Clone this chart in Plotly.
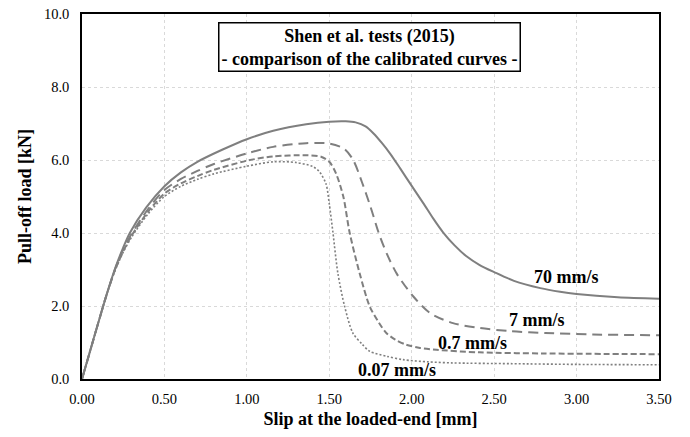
import plotly.graph_objects as go

# ---- data ----
x_70 = [0, 0.05, 0.10, 0.15, 0.20, 0.25, 0.29, 0.39, 0.50, 0.60, 0.70, 0.85, 1.00, 1.16, 1.36, 1.50,
        1.60, 1.66, 1.72, 1.77, 1.82, 1.87, 1.93, 2.00, 2.07, 2.13, 2.19, 2.26, 2.33, 2.41, 2.50,
        2.62, 2.78, 2.90, 3.00, 3.25, 3.50]
y_70 = [0, 0.78, 1.56, 2.32, 3.02, 3.60, 4.00, 4.70, 5.28, 5.66, 5.95, 6.28, 6.57, 6.80, 6.98, 7.05,
        7.06, 7.03, 6.92, 6.72, 6.46, 6.17, 5.77, 5.29, 4.82, 4.40, 4.02, 3.66, 3.37, 3.13, 2.93,
        2.69, 2.49, 2.39, 2.33, 2.24, 2.20]

x_7 = [0, 0.05, 0.10, 0.15, 0.20, 0.25, 0.30, 0.40, 0.50, 0.60, 0.70, 0.80, 1.00, 1.16, 1.36, 1.50,
       1.59, 1.645, 1.70, 1.75, 1.80, 1.85, 1.91, 2.01, 2.11, 2.25, 2.41, 2.60, 2.81, 3.10, 3.50]
y_7 = [0, 0.78, 1.56, 2.32, 3.00, 3.55, 3.97, 4.65, 5.18, 5.48, 5.70, 5.89, 6.18, 6.36, 6.46, 6.45,
       6.31, 6.00, 5.37, 4.72, 4.00, 3.42, 2.88, 2.26, 1.81, 1.53, 1.40, 1.31, 1.26, 1.22, 1.20]

x_07 = [0, 0.05, 0.10, 0.15, 0.20, 0.25, 0.30, 0.40, 0.50, 0.60, 0.70, 0.80, 1.00, 1.16, 1.36, 1.45,
        1.50, 1.54, 1.585, 1.623, 1.684, 1.745, 1.80, 1.846, 1.90, 1.967, 2.05, 2.15, 2.41, 2.80, 3.50]
y_07 = [0, 0.78, 1.56, 2.32, 2.98, 3.50, 3.92, 4.58, 5.08, 5.36, 5.56, 5.73, 5.98, 6.10, 6.13, 6.09,
        5.95, 5.64, 5.00, 4.02, 2.90, 1.99, 1.55, 1.26, 1.08, 0.94, 0.85, 0.80, 0.73, 0.70, 0.68]

x_007 = [0, 0.05, 0.10, 0.15, 0.20, 0.25, 0.30, 0.40, 0.50, 0.60, 0.70, 0.80, 1.00, 1.16, 1.30, 1.40,
         1.44, 1.48, 1.50, 1.522, 1.552, 1.593, 1.643, 1.70, 1.745, 1.85, 1.947, 2.10, 2.25, 2.60,
         3.00, 3.50]
y_007 = [0, 0.78, 1.56, 2.32, 2.97, 3.47, 3.88, 4.52, 5.00, 5.28, 5.47, 5.62, 5.83, 5.95, 5.93, 5.82,
         5.68, 5.35, 4.80, 4.02, 2.90, 1.99, 1.26, 0.95, 0.76, 0.62, 0.53, 0.47, 0.44, 0.42,
         0.40, 0.39]

curve_labels = ["70 mm/s", "7 mm/s", "0.7 mm/s", "0.07 mm/s"]
label_x = [2.94, 2.76, 2.37, 1.91]
label_y = [2.80, 1.62, 1.00, 0.25]

x_ticks = [0, 0.5, 1.0, 1.5, 2.0, 2.5, 3.0, 3.5]
y_ticks = [0, 2, 4, 6, 8, 10]

title_lines = ["Shen et al. tests (2015)", "- comparison of the calibrated curves -"]

# ---- figure ----
GRAY = "#7f7f7f"
FONT = "Liberation Serif, Times New Roman, serif"

series = [
    (x_70, y_70, dict(color=GRAY, width=2, dash="solid")),
    (x_7, y_7, dict(color=GRAY, width=2, dash="10px,6px")),
    (x_07, y_07, dict(color=GRAY, width=2, dash="6px,3px")),
    (x_007, y_007, dict(color=GRAY, width=1.6, dash="2px,2px")),
]

fig = go.Figure()
for (xs, ys, ln), name in zip(series, curve_labels):
    fig.add_trace(go.Scatter(x=xs, y=ys, mode="lines", name=name,
                             line=dict(shape="spline", smoothing=0.8, **ln),
                             showlegend=False, hoverinfo="skip"))

for txt, lx, ly in zip(curve_labels, label_x, label_y):
    fig.add_annotation(x=lx, y=ly, text="<b>%s</b>" % txt, showarrow=False,
                       font=dict(family=FONT, size=18, color="black"),
                       xanchor="center", yanchor="middle")

fig.add_annotation(x=1.745, y=9.10, xref="x", yref="y",
                   text="<b>%s</b><br><b>%s</b>" % tuple(title_lines),
                   showarrow=False, align="center",
                   font=dict(family=FONT, size=18, color="black"),
                   bordercolor="black", borderwidth=1.5, borderpad=2,
                   bgcolor="white", xanchor="center", yanchor="middle")

fig.update_xaxes(range=[0, 3.5], tickvals=x_ticks, tickformat=".2f", automargin=False,
                 showline=True, linecolor="black", linewidth=1.5, mirror=True,
                 showgrid=True, gridcolor="#d9d9d9", griddash="dot", gridwidth=1,
                 zeroline=False, ticks="", ticklabelstandoff=6,
                 tickfont=dict(family=FONT, size=14.5, color="black"),
                 title=dict(text="<b>Slip at the loaded-end [mm]</b>",
                            font=dict(family=FONT, size=18, color="black"), standoff=6))
fig.update_yaxes(range=[0, 10], tickvals=y_ticks, tickformat=".1f", automargin=False,
                 showline=True, linecolor="black", linewidth=1.5, mirror=True,
                 showgrid=True, gridcolor="#d9d9d9", griddash="dot", gridwidth=1,
                 zeroline=False, ticks="", ticklabelstandoff=8,
                 tickfont=dict(family=FONT, size=14.5, color="black"),
                 title=dict(text="<b>Pull-off load [kN]</b>",
                            font=dict(family=FONT, size=18, color="black"), standoff=8))

fig.update_layout(width=690, height=437,
                  margin=dict(l=82, r=31, t=14, b=58, autoexpand=False),
                  paper_bgcolor="white", plot_bgcolor="white")

fig.write_html("out.html", config={"displayModeBar": False},
               post_script="document.body.style.margin='0';")
